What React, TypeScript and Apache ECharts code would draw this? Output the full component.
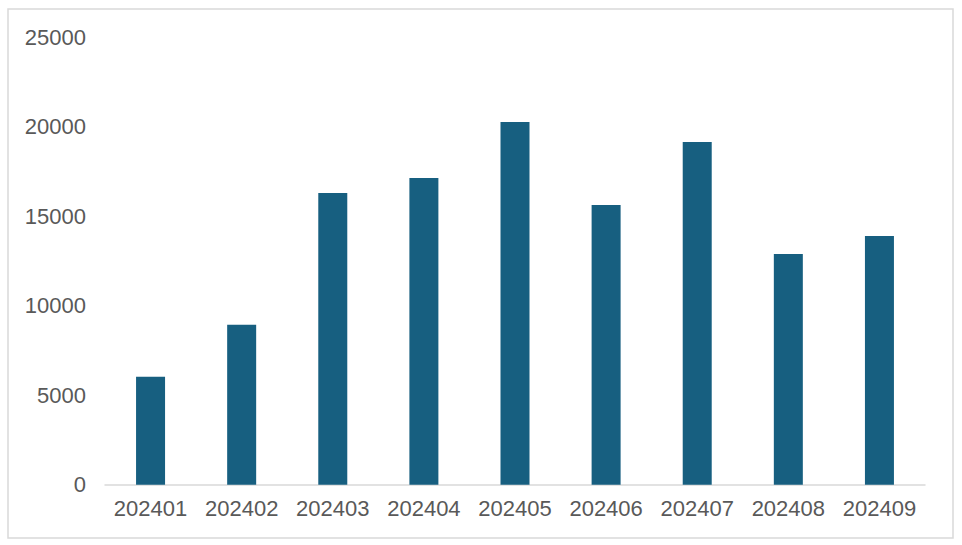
import React, { useEffect, useRef } from "react";
import * as echarts from "echarts";

const categories = ["202401", "202402", "202403", "202404", "202405", "202406", "202407", "202408", "202409"];
const values = [6030, 8930, 16300, 17130, 20260, 15630, 19150, 12890, 13890];
const yTicks = { min: 0, max: 25000, interval: 5000 };

export default function App() {
  const ref = useRef<HTMLDivElement>(null);
  useEffect(() => {
    if (!ref.current) return;
    const chart = echarts.init(ref.current, undefined, { renderer: "svg" });
    chart.setOption({
      animation: false,
      backgroundColor: "#ffffff",
      textStyle: { fontFamily: "Liberation Sans" },
      graphic: [
        {
          type: "rect",
          shape: { x: 8, y: 9, width: 945, height: 529 },
          style: { fill: "none", stroke: "#D9D9D9", lineWidth: 1.5 },
          silent: true,
        },
      ],
      grid: { left: 105, right: 37, top: 37.2, bottom: 60.3, containLabel: false },
      xAxis: {
        type: "category",
        data: categories,
        axisTick: { show: false },
        axisLine: { lineStyle: { color: "#D9D9D9", width: 1.5 } },
        axisLabel: { color: "#595959", fontSize: 22, margin: 13, interval: 0, fontFamily: "Liberation Sans" },
      },
      yAxis: {
        type: "value",
        min: yTicks.min,
        max: yTicks.max,
        interval: yTicks.interval,
        splitLine: { show: false },
        axisLine: { show: false },
        axisTick: { show: false },
        axisLabel: {
          color: "#595959",
          fontSize: 22,
          margin: 19,
          fontFamily: "Liberation Sans",
          formatter: (v: number) => String(v),
        },
      },
      series: [
        {
          type: "bar",
          data: values,
          barWidth: 29,
          itemStyle: { color: "#175F80" },
        },
      ],
    });
    return () => chart.dispose();
  }, []);
  return (
    <div
      ref={ref}
      style={{ position: "absolute", left: 0, top: 0, width: 962, height: 545 }}
    />
  );
}
